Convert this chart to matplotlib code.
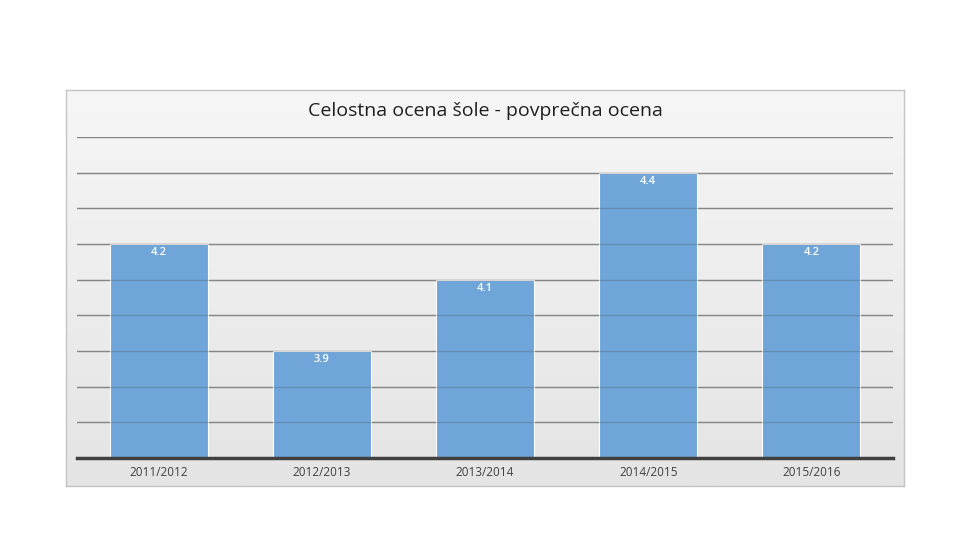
import numpy as np
import matplotlib.pyplot as plt

plt.rcParams['font.family'] = ['Open Sans', 'DejaVu Sans']

years = ['2011/2012', '2012/2013', '2013/2014', '2014/2015', '2015/2016']
scores = [4.2, 3.9, 4.1, 4.4, 4.2]
labels = ['4.2', '3.9', '4.1', '4.4', '4.2']

W, H = 960, 540
fig = plt.figure(figsize=(9.6, 5.4), dpi=100)
fig.patch.set_facecolor('white')

# gray gradient panel behind the chart
px0, py0, px1, py1 = 66, 90, 904, 486
bg = fig.add_axes([px0 / W, 1 - py1 / H, (px1 - px0) / W, (py1 - py0) / H])
grad = np.linspace(0, 1, 256).reshape(-1, 1)
bg.imshow(grad, aspect='auto', cmap=plt.matplotlib.colors.LinearSegmentedColormap.from_list(
    'g', ['#f6f6f6', '#e4e4e4']), extent=[0, 1, 0, 1], origin='upper')
bg.set_xticks([]); bg.set_yticks([])
for s in bg.spines.values():
    s.set_color('#c4c4c4')
    s.set_linewidth(1.0)

ax0, ay0, ax1, ay1 = 77, 137, 893, 458
ax = fig.add_axes([ax0 / W, 1 - ay1 / H, (ax1 - ax0) / W, (ay1 - ay0) / H])
ax.patch.set_alpha(0)

x = np.arange(len(years))
bars = ax.bar(x, scores, width=0.6, color='#6fa5d8', edgecolor='white', linewidth=0.8, zorder=2)
ax.set_ylim(3.6, 4.5)
ax.set_xlim(-0.5, len(years) - 0.5)

# grid: full strength behind bars, faint on top of them
for yv in np.arange(3.7, 4.51, 0.1):
    ax.axhline(yv, color='#9a9a9a', linewidth=1.0, zorder=1)
    ax.axhline(yv, color='#404040', linewidth=1.0, alpha=0.22, zorder=3)

for xi, v, lab in zip(x, scores, labels):
    ax.text(xi, v - 0.025, lab, ha='center', va='center', color='white', fontsize=8,
            fontweight='semibold', zorder=4)

for s in ['top', 'right', 'left']:
    ax.spines[s].set_visible(False)
ax.spines['bottom'].set_color('#404040')
ax.spines['bottom'].set_linewidth(2.5)
ax.spines['bottom'].set_zorder(5)
ax.set_yticks([])
ax.set_xticks(x)
ax.set_xticklabels(years, fontsize=8.5, color='#404040')
ax.tick_params(axis='x', length=0, pad=6)

fig.text(485 / W, 1 - 111 / H, 'Celostna ocena šole - povprečna ocena', ha='center', va='center',
         fontsize=14, color='#1f1f1f', fontweight='medium')

fig.savefig('out.png', dpi=100)
